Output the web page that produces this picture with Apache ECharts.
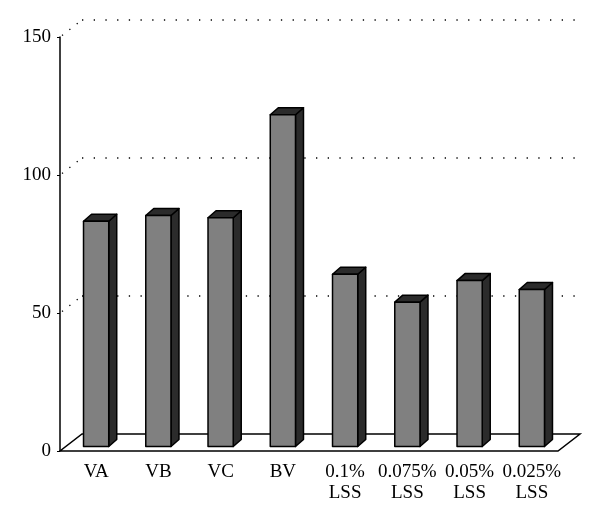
<!DOCTYPE html>
<html>
<head>
<meta charset="utf-8">
<script src="https://cdn.jsdelivr.net/npm/echarts@6/dist/echarts.min.js"></script>
<style>html,body{margin:0;padding:0;background:#fff;}#c{width:600px;height:528px;}</style>
</head>
<body>
<div id="c"></div>
<script>
const categories = ['VA', 'VB', 'VC', 'BV', '0.1%\nLSS', '0.075%\nLSS', '0.05%\nLSS', '0.025%\nLSS'];
const values = [81.6, 83.7, 82.9, 120.2, 62.4, 52.3, 60.1, 56.9];
const gridTicks = [50, 100, 150];

const BACK = [22, -17];      // depth of the back wall
const BAR_OFF = [5, -4.5];   // bar front face offset from the front plane
const BAR_DEPTH = [8, -7];   // bar thickness in depth
const FONT = '"Liberation Serif", "DejaVu Serif", serif';

const chart = echarts.init(document.getElementById('c'), null, {renderer: 'canvas'});

chart.setOption({
  animation: false,
  backgroundColor: '#fff',
  grid: {left: 60, right: 42, top: 37, bottom: 77},
  xAxis: {
    type: 'category',
    data: categories,
    axisLine: {show: false},
    axisTick: {show: false},
    axisLabel: {
      color: '#000', fontFamily: FONT, fontSize: 19, lineHeight: 21,
      margin: 11, interval: 0, padding: [0, 0, 0, 10],
      formatter: v => v
    }
  },
  yAxis: {
    type: 'value', min: 0, max: 150, interval: 50,
    axisLine: {show: true, lineStyle: {color: '#000', width: 1.5}},
    axisTick: {show: true, length: 3, lineStyle: {color: '#000'}},
    splitLine: {show: false},
    axisLabel: {color: '#000', fontFamily: FONT, fontSize: 19, margin: 9}
  },
  series: [
    {
      type: 'custom',
      z: 1,
      silent: true,
      data: [0],
      renderItem: function (params, api) {
        const cs = params.coordSys;
        const x0 = cs.x, x1 = cs.x + cs.width, yb = cs.y + cs.height;
        return {
          type: 'polygon',
          shape: {points: [[x0, yb], [x1, yb], [x1 + BACK[0], yb + BACK[1]], [x0 + BACK[0], yb + BACK[1]]]},
          style: {fill: '#fff', stroke: '#000', lineWidth: 1.5}
        };
      }
    },
    {
      type: 'custom',
      z: 2,
      silent: true,
      data: gridTicks.map(v => [0, v]),
      renderItem: function (params, api) {
        const cs = params.coordSys;
        const v = api.value(1);
        const y = api.coord([0, v])[1];
        const x0 = cs.x, x1 = cs.x + cs.width;
        const st = {stroke: '#000', lineWidth: 1.3, lineDash: [1.3, 10.4]};
        return {
          type: 'group',
          children: [
            {type: 'line', shape: {x1: x0 + 2, y1: y - 1.5, x2: x0 + BACK[0], y2: y + BACK[1]}, style: Object.assign({}, st, {lineDash: [1.3, 8]})},
            {type: 'line', shape: {x1: x0 + BACK[0], y1: y + BACK[1], x2: x1 + BACK[0], y2: y + BACK[1]}, style: st}
          ]
        };
      }
    },
    {
      type: 'custom',
      z: 3,
      silent: true,
      data: values.map((v, i) => [i, v]),
      renderItem: function (params, api) {
        const i = api.value(0), v = api.value(1);
        const top = api.coord([i, v]);
        const base = api.coord([i, 0]);
        const band = api.size([1, 0])[0];
        const w = band * 0.405;
        const cx = top[0] + BAR_OFF[0];
        const xl = cx - w / 2, xr = cx + w / 2;
        const yt = top[1] + BAR_OFF[1], yb = base[1] + BAR_OFF[1];
        const dx = BAR_DEPTH[0], dy = BAR_DEPTH[1];
        const line = {stroke: '#000', lineWidth: 1.5, lineJoin: 'round'};
        return {
          type: 'group',
          children: [
            {type: 'polygon', shape: {points: [[xr, yt], [xr + dx, yt + dy], [xr + dx, yb + dy], [xr, yb]]}, style: Object.assign({fill: '#2b2b2b'}, line)},
            {type: 'polygon', shape: {points: [[xl, yt], [xl + dx, yt + dy], [xr + dx, yt + dy], [xr, yt]]}, style: Object.assign({fill: '#2b2b2b'}, line)},
            {type: 'rect', shape: {x: xl, y: yt, width: w, height: yb - yt}, style: Object.assign({fill: '#808080'}, line)}
          ]
        };
      }
    }
  ]
});
</script>
</body>
</html>
